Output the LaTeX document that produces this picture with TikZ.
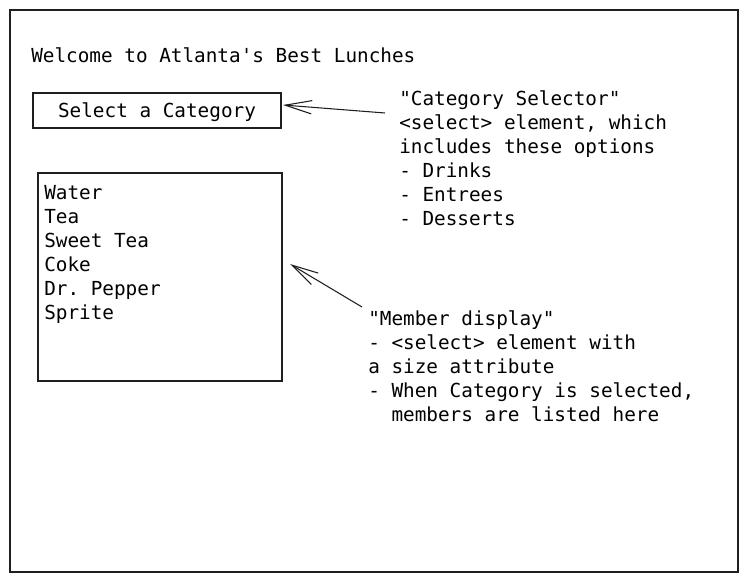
\documentclass[tikz,border=0pt]{standalone}
\usepackage{fontspec}
\setmonofont{DejaVu Sans Mono}
\usetikzlibrary{arrows.meta}

\begin{document}
\begin{tikzpicture}
	[x=0.75pt,y=-0.75pt,
	every node/.style={font=\ttfamily\fontsize{14.5}{18}\selectfont,inner sep=0pt},
	frame/.style={draw=black!88,line width=1.1pt},
	note/.style={align=left,anchor=north west},
	pointer/.style={draw=black!88,line width=0.8pt,-{Straight Barb[length=20pt,width=10pt]}}]
	\useasboundingbox (0,0) rectangle (748,581);
	\draw[frame] (10,10) rectangle (738,572);

	\node[anchor=west] (title) at (31,55) {Welcome to Atlanta's Best Lunches};
	\node[frame,minimum width=186pt,minimum height=26pt,text height=14pt,text depth=3.4pt] (select) at (157,110.5) {Select a Category};
	\node[frame,minimum width=183pt,minimum height=156pt] (members) at (160,277) {};
	\node[note] (items) at (44,185) {Water\\Tea\\Sweet Tea\\Coke\\Dr. Pepper\\Sprite};

	\node[note] (catnote) at (399,90) {"Category Selector"\\<select> element, which\\includes these options\\- Drinks\\- Entrees\\- Desserts};
	\node[note] (memnote) at (368,310) {"Member display"\\- <select> element with\\a size attribute\\- When Category is selected,\\\ \ members are listed here};

	\coordinate (catfrom) at (385,113);
	\coordinate (catto) at (283,105);
	\coordinate (memfrom) at (362,307);
	\coordinate (memto) at (290,264);
	\draw[pointer] (catfrom) -- (catto);
	\draw[pointer] (memfrom) -- (memto);
\end{tikzpicture}
\end{document}
